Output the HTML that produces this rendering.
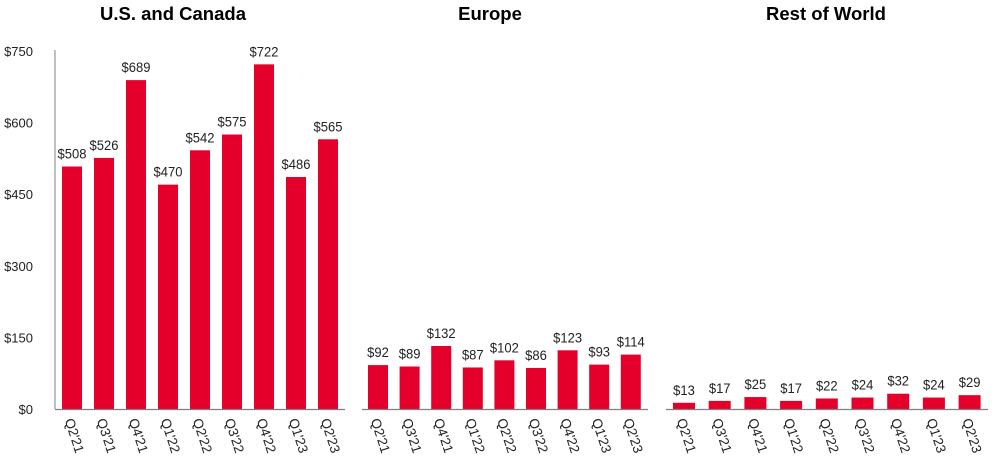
<!DOCTYPE html>
<html><head><meta charset="utf-8"><style>
body{margin:0;background:#fff;}
svg{display:block;font-family:"Liberation Sans",Arial,sans-serif;}
</style></head><body>
<svg id="chart" width="1001" height="464" viewBox="0 0 1001 464"></svg>
<script>
const categories = ["Q2'21","Q3'21","Q4'21","Q1'22","Q2'22","Q3'22","Q4'22","Q1'23","Q2'23"];
const usCanada = [508,526,689,470,542,575,722,486,565];
const europe = [92,89,132,87,102,86,123,93,114];
const restOfWorld = [13,17,25,17,22,24,32,24,29];
const yTicks = [0,150,300,450,750,600];
const panelTitles = ["U.S. and Canada","Europe","Rest of World"];

const NS = "http://www.w3.org/2000/svg";
const svg = document.getElementById('chart');
const baseY = 409, yScale = 358/750;
function y(v){ return baseY - v*yScale; }
function mk(tag, attrs, parent){ const e=document.createElementNS(NS,tag); for(const k in attrs) e.setAttribute(k,attrs[k]); (parent||svg).appendChild(e); return e; }

const panels = [
  {data: usCanada, x0:55, x1:345, first:62, step:32, w:20, name:'us-canada', tx:173},
  {data: europe, x0:362, x1:648, first:368, step:31.6, w:20, name:'europe', tx:490},
  {data: restOfWorld, x0:666, x1:988, first:673, step:35.7, w:22, name:'rest-of-world', tx:826}
];

const ax = mk('line',{x1:55,y1:50,x2:55,y2:baseY,stroke:'#808080','stroke-width':1});


yTicks.forEach(t=>{
  const tx = mk('text',{x:33,y:y(t)+5,'text-anchor':'end','font-size':13,fill:'#222'});
  tx.textContent = '$'+t;
  
  
});

panels.forEach((p,pi)=>{
  const g = mk('g',{});
  
  
  const title = mk('text',{x:p.tx,y:20,'text-anchor':'middle','font-size':18.5,'font-weight':'bold',fill:'#000'},g);
  title.textContent = panelTitles[pi];
  
  
  p.data.forEach((v,i)=>{
    const bx = p.first + i*p.step;
    const r = mk('rect',{x:bx,y:y(v),width:p.w,height:baseY-y(v),fill:'#e4002b'},g);
    
    
    const lb = mk('text',{x:bx+p.w/2,y:y(v)-8,'text-anchor':'middle','font-size':14,fill:'#222',transform:'scale(0.93 1)','transform-origin':(bx+p.w/2)+'px 0px'},g);
    lb.textContent = '$'+v;
    
    
    const cx = bx+p.w/2-4;
    const ct = mk('text',{x:cx,y:419,'font-size':13.5,fill:'#222',transform:'rotate(72 '+cx+' 419)','dominant-baseline':'middle'},g);
    ct.textContent = categories[i];
    
    
  });
  const bl = mk('line',{x1:p.x0,y1:baseY+0.5,x2:p.x1,y2:baseY+0.5,stroke:'#808080','stroke-width':1.2},g);
  
  
});
</script>
</body></html>
